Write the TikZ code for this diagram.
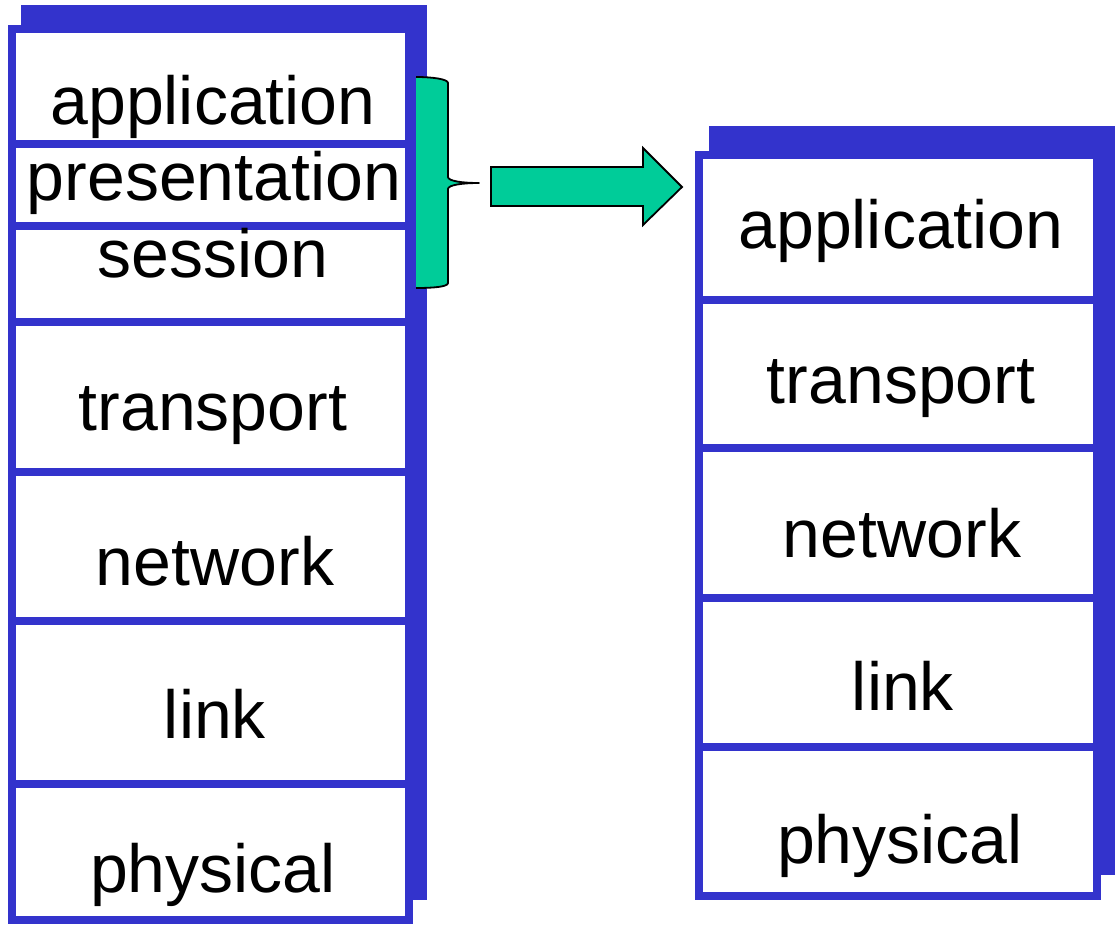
\documentclass[tikz,border=0pt]{standalone}
\usepackage{fontspec}
\setmainfont{Liberation Sans}
\definecolor{stackblue}{RGB}{51,51,204}
\definecolor{bracegreen}{RGB}{0,204,153}
\begin{document}
\begin{tikzpicture}[x=1pt,y=-1pt,
  layerbox/.style={draw=stackblue, fill=white, line width=8pt, rectangle,
    inner sep=0pt, outer sep=0pt, minimum height=#1},
  leftlayer/.style={layerbox=#1, minimum width=397pt},
  rightlayer/.style={layerbox=#1, minimum width=398pt},
  shadow/.style={fill=stackblue},
  label/.style={anchor=base, inner sep=0pt, font=\fontsize{68}{80}\selectfont},
  greenshape/.style={fill=bracegreen},
  outline/.style={draw=black, line width=1.8pt, line join=round}]
\useasboundingbox (0,0) rectangle (1118,924);

% left stack
\fill[shadow] (21,5) rectangle (427,900);
\node[leftlayer=115]   (Lapp)  at (210.5,86.5)  {};
\node[leftlayer=82]    (Lpres) at (210.5,185)   {};
\node[leftlayer=96]    (Lsess) at (210.5,274)   {};
\node[leftlayer=149.5] (Ltran) at (210.5,396.75){};
\node[leftlayer=149.5] (Lnet)  at (210.5,546.25){};
\node[leftlayer=163]   (Llink) at (210.5,702.5) {};
\node[leftlayer=136]   (Lphys) at (210.5,852)   {};

\node[label] (tLapp)  at (213,124) {application};
\node[label] (tLpres) at (214,200) {presentation};
\node[label] (tLsess) at (213,277) {session};
\node[label] (tLtran) at (213,430) {transport};
\node[label] (tLnet)  at (215,585) {network};
\node[label] (tLlink) at (215,738) {link};
\node[label] (tLphys) at (213,892) {physical};

% right stack
\fill[shadow] (709,126) rectangle (1115,875);
\node[rightlayer=145.5] (Rapp)  at (898,227.25) {};
\node[rightlayer=148]   (Rtran) at (898,374)    {};
\node[rightlayer=149.5] (Rnet)  at (898,522.75) {};
\node[rightlayer=149.5] (Rlink) at (898,672.25) {};
\node[rightlayer=149]   (Rphys) at (898,821.5)  {};

\node[label] (tRapp)  at (901,248) {application};
\node[label] (tRtran) at (901,403) {transport};
\node[label] (tRnet)  at (902,557) {network};
\node[label] (tRlink) at (903,710) {link};
\node[label] (tRphys) at (900,863) {physical};

% brace
\fill[greenshape] (416,77) .. controls (432,77) and (448,79) .. (448,83)
  -- (448,177) .. controls (448,181) and (462,183) .. (479,183)
  .. controls (462,183) and (448,185) .. (448,189)
  -- (448,283) .. controls (448,287) and (432,288) .. (416,288) -- cycle;
\draw[outline] (416,77) .. controls (432,77) and (448,79) .. (448,83)
  -- (448,177) .. controls (448,181) and (462,183) .. (479,183)
  .. controls (462,183) and (448,185) .. (448,189)
  -- (448,283) .. controls (448,287) and (432,288) .. (416,288);

% block arrow
\draw[greenshape, outline, line join=miter] (491,167) -- (643,167) -- (643,148) -- (682,187)
  -- (643,225) -- (643,206) -- (491,206) -- cycle;
\end{tikzpicture}
\end{document}
